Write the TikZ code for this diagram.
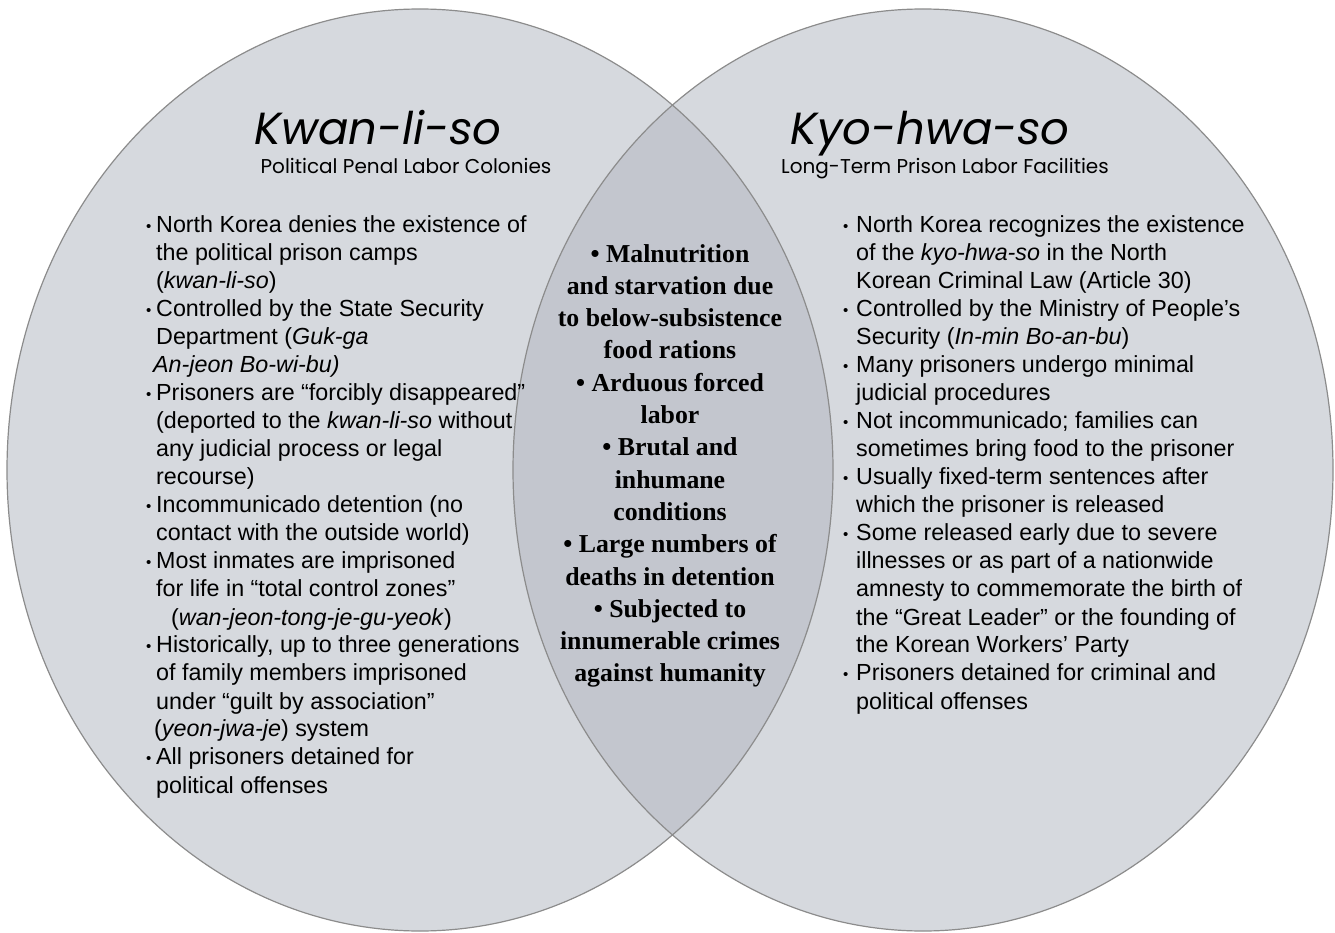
\documentclass[tikz,border=0pt]{standalone}
\usepackage{fontspec}
\newfontfamily\bodyfont{Liberation Sans}
\newfontfamily\midfont{Liberation Serif}
\newfontfamily\titlefont{Poppins}
\definecolor{circfill}{HTML}{D6D9DE}
\definecolor{lensfill}{HTML}{C3C6CE}
\definecolor{circline}{HTML}{8C8C8C}
\newcommand{\lb}{\makebox[10pt][l]{\raisebox{1.5pt}{\fontsize{15}{15}\selectfont •}}}
\newcommand{\li}{\hspace*{10pt}}
\newcommand{\rb}{\makebox[13pt][l]{\raisebox{1.5pt}{\fontsize{15}{15}\selectfont •}}}
\newcommand{\ri}{\hspace*{13pt}}
\tikzset{
  venn/.style={draw=circline, line width=1.2pt},
  bodytext/.style={anchor=base west, inner sep=0pt, font=\bodyfont\fontsize{23.3}{28}\selectfont},
  midtext/.style={anchor=base, inner sep=0pt, font=\midfont\bfseries\fontsize{25.8}{32.3}\selectfont},
  titletext/.style={anchor=base, inner sep=0pt, font=\titlefont\itshape\fontsize{45}{50}\selectfont},
  subtext/.style={anchor=base, inner sep=0pt, font=\titlefont\fontsize{20}{24}\selectfont},
}
\begin{document}
\begin{tikzpicture}[x=1pt, y=-1pt]
\useasboundingbox (0,0) rectangle (1335,933);
\fill[circfill] (420,470) ellipse [x radius=413pt, y radius=461pt];
\fill[circfill] (923,470) ellipse [x radius=410pt, y radius=461pt];
\begin{scope}
  \clip (420,470) ellipse [x radius=413pt, y radius=461pt];
  \fill[lensfill] (923,470) ellipse [x radius=410pt, y radius=461pt];
\end{scope}
\draw[venn] (420,470) ellipse [x radius=413pt, y radius=461pt];
\draw[venn] (923,470) ellipse [x radius=410pt, y radius=461pt];

\node[titletext] (ltitle) at (378,145) {Kwan-li-so};
\node[subtext] (lsub) at (406,174) {Political Penal Labor Colonies};
\node[titletext] (rtitle) at (930,145) {Kyo-hwa-so};
\node[subtext] (rsub) at (945,174) {Long-Term Prison Labor Facilities};

\node[bodytext] (lcol) at (146,233) {\parbox[t]{420pt}{\raggedright
\lb North Korea denies the existence of\\
\li the political prison camps\\
\li (\textit{kwan-li-so})\\
\lb Controlled by the State Security\\
\li Department (\textit{Guk-ga}\\
\hspace*{7pt}\textit{An-jeon Bo-wi-bu)}\\
\lb Prisoners are “forcibly disappeared”\\
\li (deported to the \textit{kwan-li-so} without\\
\li any judicial process or legal\\
\li recourse)\\
\lb Incommunicado detention (no\\
\li contact with the outside world)\\
\lb Most inmates are imprisoned\\
\li for life in “total control zones”\\
\hspace*{25pt}(\textit{wan-jeon-tong-je-gu-yeok})\\
\lb Historically, up to three generations\\
\li of family members imprisoned\\
\li under “guilt by association”\\
\hspace*{8pt}(\textit{yeon-jwa-je}) system\\
\lb All prisoners detained for\\
\li political offenses}};

\node[bodytext] (rcol) at (843,233) {\parbox[t]{480pt}{\raggedright
\rb North Korea recognizes the existence\\
\ri of the \textit{kyo-hwa-so} in the North\\
\ri Korean Criminal Law (Article 30)\\
\rb Controlled by the Ministry of People’s\\
\ri Security (\textit{In-min Bo-an-bu})\\
\rb Many prisoners undergo minimal\\
\ri judicial procedures\\
\rb Not incommunicado; families can\\
\ri sometimes bring food to the prisoner\\
\rb Usually fixed-term sentences after\\
\ri which the prisoner is released\\
\rb Some released early due to severe\\
\ri illnesses or as part of a nationwide\\
\ri amnesty to commemorate the birth of\\
\ri the “Great Leader” or the founding of\\
\ri the Korean Workers’ Party\\
\rb Prisoners detained for criminal and\\
\ri political offenses}};

\node[midtext] (mid) at (670,262) {\parbox[t]{320pt}{\centering
• Malnutrition\\
and starvation due\\
to below-subsistence\\
food rations\\
• Arduous forced\\
labor\\
• Brutal and\\
inhumane\\
conditions\\
• Large numbers of\\
deaths in detention\\
• Subjected to\\
innumerable crimes\\
against humanity}};
\end{tikzpicture}
\end{document}
